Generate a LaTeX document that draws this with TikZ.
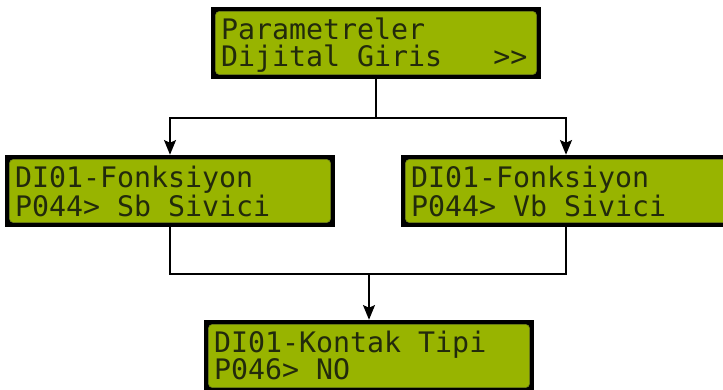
\documentclass[tikz,border=0pt]{standalone}
\usepackage{fontspec}
\usepackage{tikz}
\usetikzlibrary{arrows.meta, calc, positioning}
\newfontfamily\lcdfont{DejaVu Sans Mono}
\newcommand\lcdtype{\lcdfont\fontsize{21.2}{20.25}\selectfont}
\newcommand\lcdspacing{\spaceskip=\fontcharwd\font`\x\relax\xspaceskip=\spaceskip}
\definecolor{lcdgreen}{HTML}{98B400}
\definecolor{lcdtext}{HTML}{222A0C}
\definecolor{lcdedge}{HTML}{6E7F20}
\tikzset{
  lcd/.style={
    rectangle, fill=black,
    minimum width=247.5pt,
    minimum height=54pt,
    inner xsep=7.5pt, inner ysep=0pt,
    text width=232.5pt,
    align=flush left,
    text depth=20.75pt,
    text=lcdtext,
    font=\lcdtype,
    execute at begin node=\lcdspacing,
    path picture={
      \draw[lcdedge, fill=lcdgreen, rounded corners=3pt, line width=0.4pt]
        ([shift={(3.3pt,3.3pt)}]path picture bounding box.south west) rectangle
        ([shift={(-3.3pt,-3.3pt)}]path picture bounding box.north east);
    }
  },
  % collegamenti
  wire/.style={line width=1.1pt, black},
  flow/.style={wire, -{Stealth[length=11pt,width=9pt,inset=2pt]}},
  every node/.style={anchor=center}
}

\begin{document}
\begin{tikzpicture}[x=0.75pt, y=-0.75pt]
\useasboundingbox (0,0) rectangle (723,389);

% Menu principale
\node[lcd] (param) at (376,43) {Parametreler\\Dijital Giris\ \ \ >>};

% Due funzioni
\node[lcd] (fonksb) at (170,191) {DI01-Fonksiyon\\P044> Sb Sivici};
\node[lcd] (fonkvb) at (566,191) {DI01-Fonksiyon\\P044> Vb Sivici};

% Tipo contatto
\node[lcd] (kontak) at (369,356) {DI01-Kontak Tipi\\P046> NO};

% Punti di diramazione
\coordinate (split) at (376,118);
\coordinate (merge) at (369,274);

\draw[wire] (param.south) -- (split);
\draw[flow] (split) -| (fonksb.north);
\draw[flow] (split) -| (fonkvb.north);

\draw[wire] (fonksb.south) |- (merge);
\draw[wire] (fonkvb.south) |- (merge);
\draw[flow] (merge) -- (kontak.north);

\end{tikzpicture}
\end{document}
